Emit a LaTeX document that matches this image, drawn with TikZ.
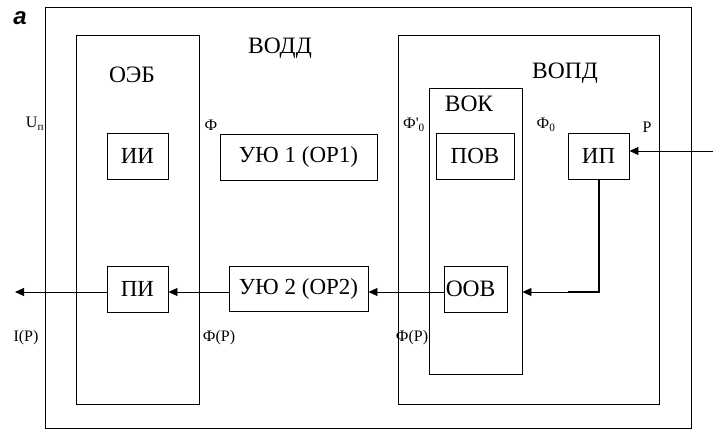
\documentclass[tikz,border=0pt]{standalone}
\usepackage{fontspec}
\setmainfont{Liberation Serif}
\newfontfamily\tagfont{Liberation Sans}
\usetikzlibrary{positioning,arrows.meta}

\begin{document}
\begin{tikzpicture}[x=1pt,y=-1pt,
    frame/.style={draw,line width=0.9pt,inner sep=0pt},
    blk/.style={draw,line width=0.9pt,inner sep=0pt,font=\fontsize{23}{25}\selectfont},
    ttl/.style={inner sep=0pt,font=\fontsize{23.5}{25}\selectfont},
    sig/.style={inner sep=0pt,font=\fontsize{16}{18}\selectfont},
    wire/.style={line width=0.9pt,-{Triangle[length=9pt,width=8pt]}}]
  \useasboundingbox (0,0) rectangle (713,430);
  \node[frame,minimum width=646pt,minimum height=421pt](vodd)at(368,217.5){};
  \node[frame,minimum width=123pt,minimum height=369pt](oeb)at(137.5,219.5){};
  \node[frame,minimum width=261pt,minimum height=369pt](vopd)at(528.5,219.5){};
  \node[frame,minimum width=93pt,minimum height=286pt](vok)at(475.5,231){};
  \node[blk,minimum width=61pt,minimum height=46pt](ii)at(137.5,156){ИИ};
  \node[blk,minimum width=61pt,minimum height=46pt](pi)at(137.5,289){ПИ};
  \node[blk,minimum width=157pt,minimum height=46pt](uyu1)at(298.5,157){УЮ 1 (ОР1)};
  \node[blk,minimum width=139pt,minimum height=45pt](uyu2)at(298.5,288.5){УЮ 2 (ОР2)};
  \node[blk,minimum width=78pt,minimum height=46pt](pov)at(475,156){ПОВ};
  \node[blk,minimum width=61pt,minimum height=46pt](ip)at(598.5,156){ИП};
  \node[frame,minimum width=63pt,minimum height=46pt](oov)at(475.5,289){};
  \node[ttl,anchor=west](oovtxt)at([xshift=2pt]oov.west){ООВ};
  \node[inner sep=0pt,font=\tagfont\fontsize{24}{26}\selectfont\bfseries\itshape](tag)at(20,18){а};
  \node[ttl](lvodd)at(280,48){ВОДД};
  \node[ttl](loeb)at(132,75){ОЭБ};
  \node[ttl](lvopd)at(565,73){ВОПД};
  \node[ttl](lvok)at(469,104){ВОК};
  \node[sig](sun)at(35,124){U\textsubscript{п}};
  \node[sig](sphi)at(211,125){Ф};
  \node[sig](sphia)at(414,125){Ф\textquotesingle\textsubscript{0}};
  \node[sig](sphib)at(546,125){Ф\textsubscript{0}};
  \node[sig](sp)at(647,127){P};
  \node[sig](sip)at(26,338){I(P)};
  \node[sig](sphp)at(219,338){Ф(P)};
  \node[sig](sphq)at(412,338){Ф(P)};
  \coordinate(row)at(0,292);
  \coordinate(out)at(15,292);
  \coordinate(in)at(713,151);
  \draw[wire](pi.west|-row)--(out);
  \draw[wire](uyu2.west|-row)--(pi.east|-row);
  \draw[wire](oov.west|-row)--(uyu2.east|-row);
  \draw[wire](in)--(ip.east|-in);
  \draw[line width=2pt](ip.south)--(ip.south|-row)--(ip.west|-row);
  \draw[wire](ip.west|-row)--(vok.east|-row);
\end{tikzpicture}
\end{document}
